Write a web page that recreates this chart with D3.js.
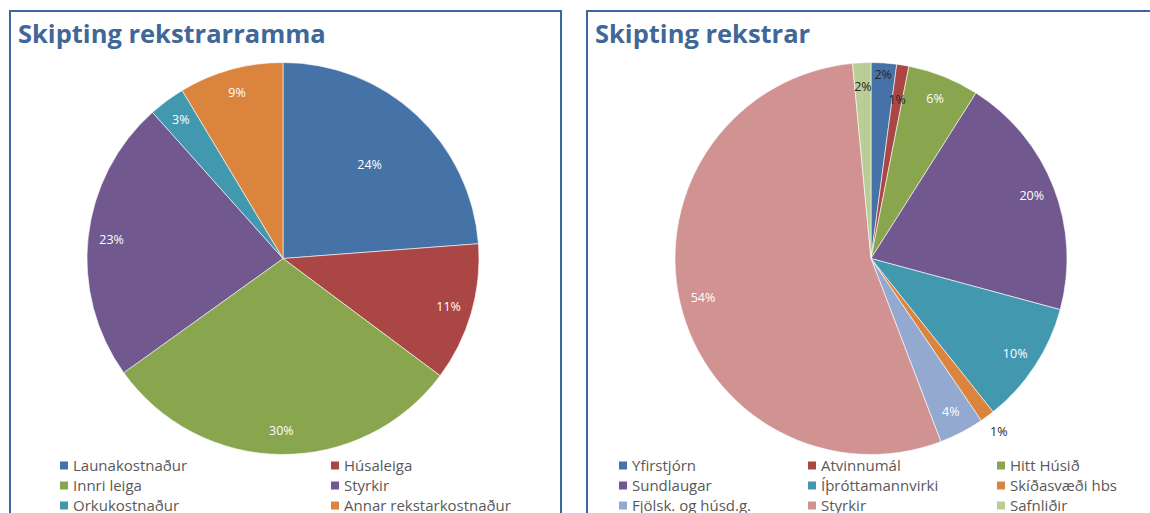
<!DOCTYPE html>
<html>
<head>
<meta charset="utf-8">
<script src="https://cdn.jsdelivr.net/npm/d3@7/dist/d3.min.js"></script>
<style>
  body { margin: 0; background: #fff; }
  svg { display: block; font-family: "Open Sans", sans-serif; }
</style>
</head>
<body>
<svg id="chart" width="1150" height="513"></svg>
<script>
// left chart: Skipting rekstrarramma
const leftTitle = 'Skipting rekstrarramma'
const leftCategories = ['Launakostnaður', 'Húsaleiga', 'Innri leiga', 'Styrkir', 'Orkukostnaður', 'Annar rekstarkostnaður']
const leftValues = [23.8, 11.4, 29.9, 23.3, 3.0, 8.6]

// right chart: Skipting rekstrar
const rightTitle = 'Skipting rekstrar'
const rightCategories = ['Yfirstjórn', 'Atvinnumál', 'Hitt Húsið', 'Sundlaugar', 'Íþróttamannvirki', 'Skíðasvæði hbs', 'Fjölsk. og húsd.g.', 'Styrkir', 'Safnliðir']
const rightValues = [2.1, 1.0, 5.9, 20.2, 10.1, 1.2, 3.7, 54.3, 1.5]

const palette = ['#4572A7', '#AA4643', '#89A54E', '#71588F', '#4198AF', '#DB843D', '#93A9CF', '#D19392', '#B9CD96']

const svg = d3.select('#chart')

function drawPanel(opts) {
  const g = svg.append('g')
  // panel frame
  g.append('rect')
    .attr('x', opts.frame[0]).attr('y', opts.frame[1])
    .attr('width', opts.frame[2]).attr('height', opts.frame[3])
    .attr('fill', '#fff').attr('stroke', '#3C68A0').attr('stroke-width', 2)

  g.append('text')
    .attr('x', opts.frame[0] + 8).attr('y', 43)
    .attr('font-size', 25.5).attr('font-weight', 'bold')
    .attr('fill', '#3F6797')
    .text(opts.title)

  const data = opts.categories.map((c, i) => ({name: c, value: opts.values[i], i}))
  const pie = d3.pie().sort(null).value((d) => d.value)
  const arc = d3.arc().innerRadius(0).outerRadius(opts.r)
  const arcs = pie(data)

  const pg = g.append('g').attr('transform', `translate(${opts.cx},${opts.cy})`)
  pg.selectAll('path')
    .data(arcs)
    .join('path')
    .attr('d', arc)
    .attr('fill', (d) => palette[d.data.i])
    .attr('stroke', '#fff')
    .attr('stroke-width', 0.6)

  pg.selectAll('text')
    .data(arcs)
    .join('text')
    .attr('transform', (d) => {
      const k = (opts.labelRadius[d.index] || 0.88) * opts.r
      const a = (d.startAngle + d.endAngle) / 2
      return `translate(${Math.sin(a) * k},${-Math.cos(a) * k})`
    })
    .attr('text-anchor', 'middle')
    .attr('dy', '0.35em')
    .attr('font-size', 12.5)
    .attr('fill', (d) => opts.darkLabels.includes(d.index) ? '#262626' : '#fff')
    .text((d) => d3.format('.0f')(d.data.value) + '%')

  // legend, three rows; the last row is clipped by the window as in the original
  const lg = g.append('g')
  const items = lg.selectAll('g')
    .data(data)
    .join('g')
    .attr('transform', (d, i) => {
      const col = i % opts.legendCols.length
      const row = Math.floor(i / opts.legendCols.length)
      return `translate(${opts.legendCols[col]},${466 + row * 20})`
    })
  items.append('rect')
    .attr('x', -13).attr('y', -4.5)
    .attr('width', 8).attr('height', 8)
    .attr('fill', (d) => palette[d.i])
  items.append('text')
    .attr('x', 0).attr('dy', '0.35em')
    .attr('font-size', 15)
    .attr('fill', '#595959')
    .text((d) => d.name)
}

drawPanel({
  frame: [10, 11, 551, 520],
  title: leftTitle,
  categories: leftCategories,
  values: leftValues,
  cx: 283, cy: 258.5, r: 196,
  labelRadius: {0: 0.65},
  darkLabels: [],
  legendCols: [73, 344]
})

drawPanel({
  frame: [587, 11, 600, 520],
  title: rightTitle,
  categories: rightCategories,
  values: rightValues,
  cx: 871, cy: 258.5, r: 196,
  labelRadius: {0: 0.94, 1: 0.82, 5: 1.1},
  darkLabels: [0, 1, 5, 8],
  legendCols: [632, 821, 1010]
})
</script>
</body>
</html>
